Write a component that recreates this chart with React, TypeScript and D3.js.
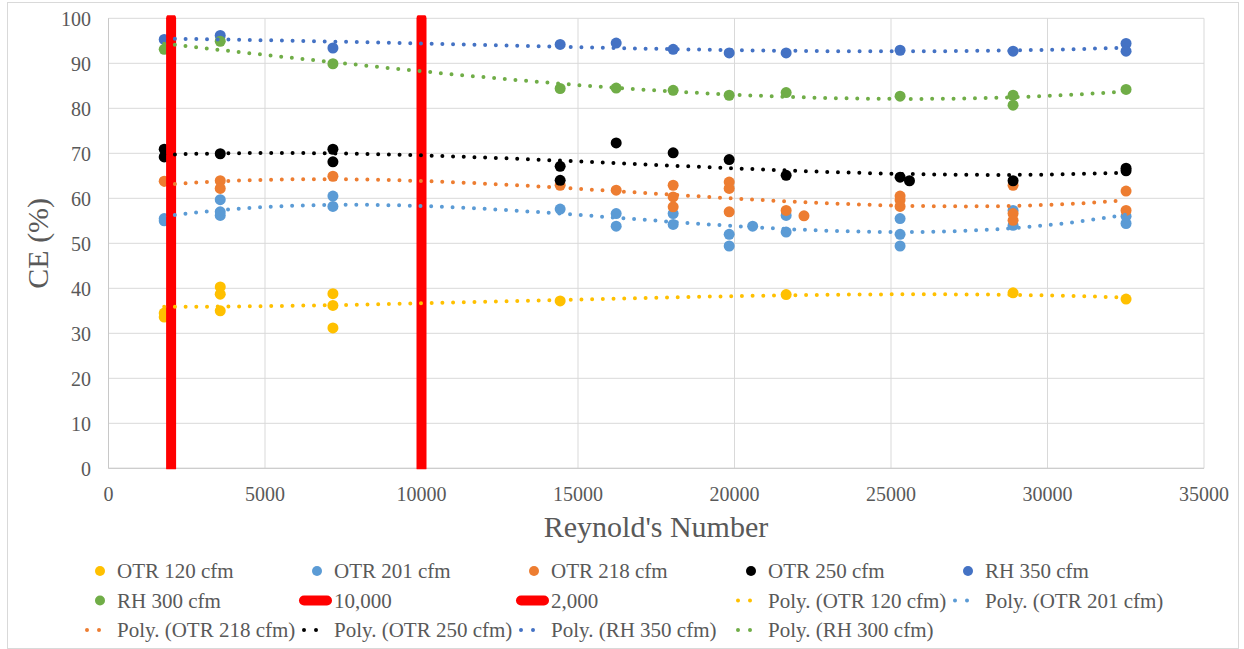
import React from 'react';
import * as d3 from 'd3';

// ---------- data ----------
const xTicks = [0, 5000, 10000, 15000, 20000, 25000, 30000, 35000];
const yTicks = [0, 10, 20, 30, 40, 50, 60, 70, 80, 90, 100];

const otr120: [number, number][] = [
  [1780, 34.5], [1780, 33.6], [3570, 40.3], [3570, 38.7], [3570, 35.0],
  [7170, 38.8], [7170, 36.2], [7170, 31.2], [14430, 37.2], [21650, 38.6],
  [28900, 39.0], [32510, 37.6],
];
const otr201: [number, number][] = [
  [1780, 55.5], [1780, 55.0], [3570, 59.7], [3570, 57.0], [3570, 56.2],
  [7170, 60.5], [7170, 58.2], [14430, 57.6], [16220, 56.6], [16220, 53.8],
  [18040, 56.6], [18040, 54.2], [19830, 52.0], [19830, 49.4], [20580, 53.8],
  [21650, 56.2], [21650, 52.5], [25290, 55.5], [25290, 52.0], [25290, 49.4],
  [28900, 57.3], [28900, 54.0], [32510, 56.0], [32510, 54.4],
];
const otr218: [number, number][] = [
  [1780, 63.8], [3570, 63.9], [3570, 62.2], [7170, 64.9], [14430, 62.9],
  [16220, 61.8], [18040, 62.9], [18040, 60.3], [18040, 58.1], [19830, 63.6],
  [19830, 62.2], [19830, 57.0], [21650, 57.3], [22220, 56.1], [25290, 60.5],
  [25290, 59.6], [25290, 58.2], [28900, 62.9], [28900, 56.6], [28900, 55.1],
  [32510, 61.6], [32510, 57.3],
];
const otr250: [number, number][] = [
  [1780, 70.9], [1780, 69.2], [3570, 69.9], [7170, 70.9], [7170, 68.1],
  [14430, 67.1], [14430, 64.0], [16220, 72.3], [18040, 70.1], [19830, 68.6],
  [21650, 65.1], [25290, 64.7], [25590, 63.9], [28900, 63.9], [32510, 66.7],
  [32510, 66.1],
];
const rh350: [number, number][] = [
  [1780, 95.3], [3570, 96.2], [7170, 93.4], [14430, 94.2], [16220, 94.5],
  [18040, 93.1], [19830, 92.3], [21650, 92.3], [25290, 92.9], [28900, 92.7],
  [32510, 94.4], [32510, 92.7],
];
const rh300: [number, number][] = [
  [1780, 93.1], [3570, 94.9], [7170, 89.9], [14430, 84.4], [16220, 84.5],
  [18040, 84.0], [19830, 82.9], [21650, 83.5], [25290, 82.7], [28900, 82.9],
  [28900, 80.7], [32510, 84.2],
];
const ref10000: [number, number][] = [[10000, 0], [10000, 100]];
const ref2000: [number, number][] = [[2000, 0], [2000, 100]];

const seriesNames = ['OTR 120 cfm', 'OTR 201 cfm', 'OTR 218 cfm', 'OTR 250 cfm', 'RH 350 cfm', 'RH 300 cfm'];
const seriesData = [otr120, otr201, otr218, otr250, rh350, rh300];
const seriesColors = ['#FFC000', '#5B9BD5', '#ED7D31', '#000000', '#4472C4', '#70AD47'];
const refNames = ['10,000', '2,000'];
const refData = [ref10000, ref2000];
const polyOrder = 3;

// ---------- helpers ----------
function polyfit(pts: [number, number][], order: number): number[] {
  const n = order + 1;
  const A: number[][] = Array.from({ length: n }, () => new Array(n + 1).fill(0));
  for (const [x0, y] of pts) {
    const x = x0 / 10000;
    for (let i = 0; i < n; i++) {
      for (let j = 0; j < n; j++) A[i][j] += Math.pow(x, i + j);
      A[i][n] += y * Math.pow(x, i);
    }
  }
  for (let c = 0; c < n; c++) {
    let p = c;
    for (let r = c + 1; r < n; r++) if (Math.abs(A[r][c]) > Math.abs(A[p][c])) p = r;
    [A[c], A[p]] = [A[p], A[c]];
    for (let r = 0; r < n; r++) {
      if (r === c) continue;
      const f = A[r][c] / A[c][c];
      for (let k = c; k <= n; k++) A[r][k] -= f * A[c][k];
    }
  }
  return A.map((row, i) => row[n] / row[i]);
}
function polyEval(coef: number[], x0: number) {
  const x = x0 / 10000;
  return coef.reduce((s, c, i) => s + c * Math.pow(x, i), 0);
}

// ---------- layout ----------
const W = 1244, H = 649;
const x = d3.scaleLinear().domain([0, 35000]).range([108.5, 1204]);
const y = d3.scaleLinear().domain([0, 100]).range([468.3, 18.3]);
const FONT = '"Liberation Serif", "Times New Roman", serif';
const TXT = '#595959';
const legendX0 = 117, legendStep = 217;
const legendBase = [578, 607.5, 637];

export default function App() {
  const line = d3.line<[number, number]>().x(d => x(d[0])).y(d => y(d[1]));
  const trends = seriesData.map(pts => {
    const coef = polyfit(pts, polyOrder);
    const [lo, hi] = d3.extent(pts, d => d[0]) as [number, number];
    const samples: [number, number][] = d3.range(0, 121).map(i => {
      const xv = lo + ((hi - lo) * i) / 120;
      return [xv, polyEval(coef, xv)];
    });
    return samples;
  });

  type LegendItem = { kind: 'marker' | 'ref' | 'trend'; label: string; color: string };
  const legendRows: LegendItem[][] = [
    seriesNames.slice(0, 5).map((n, i) => ({ kind: 'marker', label: n, color: seriesColors[i] })),
    [
      { kind: 'marker', label: seriesNames[5], color: seriesColors[5] },
      { kind: 'ref', label: refNames[0], color: '#FF0000' },
      { kind: 'ref', label: refNames[1], color: '#FF0000' },
      { kind: 'trend', label: `Poly. (${seriesNames[0]})`, color: seriesColors[0] },
      { kind: 'trend', label: `Poly. (${seriesNames[1]})`, color: seriesColors[1] },
    ],
    [2, 3, 4, 5].map(i => ({ kind: 'trend', label: `Poly. (${seriesNames[i]})`, color: seriesColors[i] })),
  ];

  return (
    <div style={{ position: 'absolute', left: 0, top: 0 }}>
      <svg width={W} height={H} style={{ display: 'block', background: '#fff' }} fontFamily={FONT}>
        <defs>
          <clipPath id="plotClip">
            <rect x={x(0) - 20} y={y(100) - 3} width={x(35000) - x(0) + 40} height={y(0) - y(100) + 4} />
          </clipPath>
        </defs>
        <rect x={7.5} y={2.5} width={1231} height={646} fill="#fff" stroke="#d9d9d9" />
        {/* gridlines */}
        {yTicks.map(t => (
          <line key={'gy' + t} x1={x(0)} x2={x(35000)} y1={y(t)} y2={y(t)} stroke="#d9d9d9" strokeWidth={1} />
        ))}
        {xTicks.map(t => (
          <line key={'gx' + t} x1={x(t)} x2={x(t)} y1={y(0)} y2={y(100)} stroke="#d9d9d9" strokeWidth={1} />
        ))}
        <line x1={x(0)} x2={x(0)} y1={y(0)} y2={y(100)} stroke="#c8c8c8" />
        <line x1={x(0)} x2={x(35000)} y1={y(0)} y2={y(0)} stroke="#c8c8c8" />
        {/* tick labels */}
        {yTicks.map(t => (
          <text key={'ly' + t} x={91} y={y(t) + 7.5} textAnchor="end" fontSize={20} fill={TXT}>{t}</text>
        ))}
        {xTicks.map(t => (
          <text key={'lx' + t} x={x(t)} y={501} textAnchor="middle" fontSize={20} fill={TXT}>{t}</text>
        ))}
        {/* axis titles */}
        <text x={656} y={537} textAnchor="middle" fontSize={30} fill={TXT}>Reynold's Number</text>
        <text transform={`translate(48,${(y(0) + y(100)) / 2}) rotate(-90)`} textAnchor="middle" fontSize={30} fill={TXT}>CE (%)</text>
        {/* markers */}
        {seriesData.map((pts, si) => (
          <g key={'s' + si}>
            {pts.map((d, i) => (
              <circle key={i} cx={x(d[0])} cy={y(d[1])} r={5.5} fill={seriesColors[si]} />
            ))}
          </g>
        ))}
        {/* reference lines */}
        <g clipPath="url(#plotClip)">
          {refData.map((pts, i) => (
            <path key={'r' + i} d={line(pts) || ''} stroke="#FF0000" strokeWidth={10} strokeLinecap="round" fill="none" />
          ))}
        </g>
        {/* trendlines */}
        {trends.map((pts, i) => (
          <path key={'t' + i} d={line(pts) || ''} stroke={seriesColors[i]} strokeWidth={4} strokeLinecap="round"
            strokeDasharray="0 10.7" fill="none" />
        ))}
        {/* legend */}
        {legendRows.map((row, ri) =>
          row.map((it, ci) => {
            const tx = legendX0 + legendStep * ci;
            const by = legendBase[ri];
            const cy = by - 7;
            return (
              <g key={`lg${ri}-${ci}`}>
                {it.kind === 'marker' && <circle cx={tx - 17} cy={cy} r={5} fill={it.color} />}
                {it.kind === 'ref' && (
                  <line x1={tx - 30} x2={tx - 7} y1={cy} y2={cy} stroke={it.color} strokeWidth={10} strokeLinecap="round" />
                )}
                {it.kind === 'trend' && (
                  <line x1={tx - 30} x2={tx - 6} y1={cy} y2={cy} stroke={it.color} strokeWidth={4} strokeLinecap="round"
                    strokeDasharray="0 12" />
                )}
                <text x={tx} y={by} fontSize={21} fill={TXT}>{it.label}</text>
              </g>
            );
          })
        )}
      </svg>
    </div>
  );
}
